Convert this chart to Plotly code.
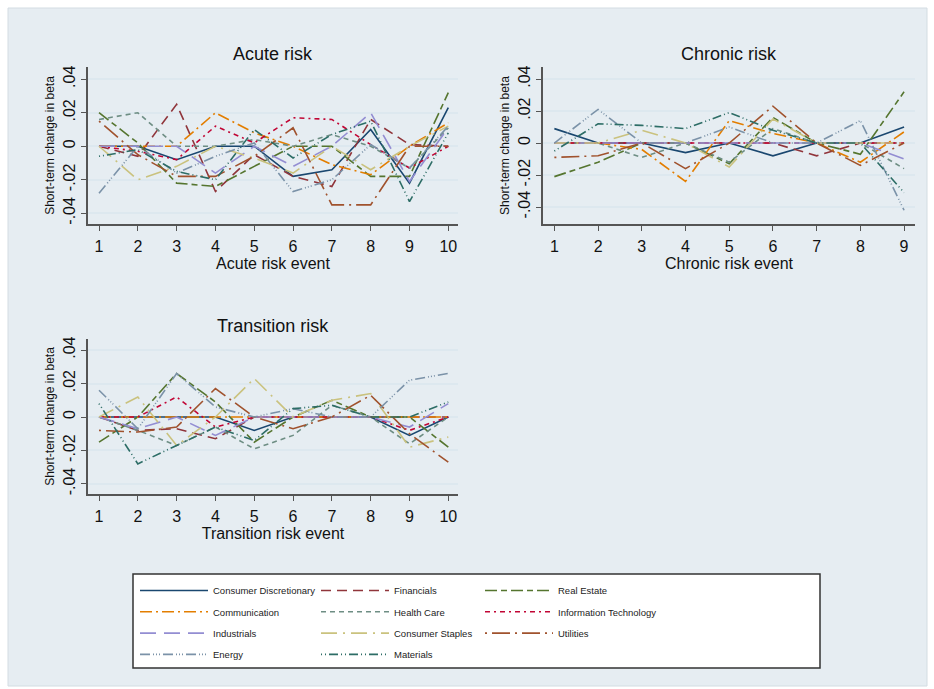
import plotly.graph_objects as go

W, H = 934, 689

sectors = ["Consumer Discretionary", "Financials", "Real Estate",
           "Communication", "Health Care", "Information Technology",
           "Industrials", "Consumer Staples", "Utilities",
           "Energy", "Materials"]

colors = ["#1a476f", "#90353b", "#55752f",
          "#e37e00", "#6e8e84", "#c10534",
          "#938dd2", "#cac27e", "#a0522d",
          "#7b92a8", "#2d6d66"]

dashes = ["solid", "10px,6px", "12px,4px,6px,4px",
          "12px,4px,2px,4px", "5px,4px", "5px,4px,2px,4px",
          "16px,8px", "16px,6px,2px,6px", "2px,5px,18px,5px",
          "10px,3px,1px,2px,1px,2px,1px,3px", "1px,3px,1px,3px,9px,3px"]

acute_events = list(range(1, 11))
chronic_events = list(range(1, 10))
transition_events = list(range(1, 11))

acute = {
    "Consumer Discretionary": [0, 0, -0.008, 0, 0, -0.018, -0.014, 0.010, -0.022, 0.023],
    "Financials":             [0, -0.006, 0.025, -0.027, -0.005, -0.018, -0.024, 0.016, 0.001, 0],
    "Real Estate":            [0.020, 0.002, -0.022, -0.024, -0.012, 0, 0, -0.018, -0.018, 0.032],
    "Communication":          [0, 0, 0, 0.020, 0.008, 0, -0.011, -0.017, 0, 0.014],
    "Health Care":            [0.016, 0.020, 0, 0, 0.004, 0, 0.007, 0, -0.013, 0.011],
    "Information Technology": [0, -0.003, -0.008, 0.012, 0.002, 0.017, 0.016, 0.001, -0.013, 0],
    "Industrials":            [0, 0, 0, -0.016, 0, -0.012, 0, 0.020, -0.021, 0.011],
    "Consumer Staples":       [0, -0.020, -0.012, 0, -0.007, -0.016, 0, -0.014, 0, 0.012],
    "Utilities":              [0.015, -0.005, -0.018, -0.018, -0.006, 0.011, -0.035, -0.035, 0, 0],
    "Energy":                 [-0.028, 0, -0.016, -0.006, 0.002, -0.027, -0.020, 0.001, -0.013, 0.012],
    "Materials":              [-0.006, -0.002, -0.015, -0.020, 0.010, -0.007, 0.007, 0.015, -0.033, 0.008],
}

chronic = {
    "Consumer Discretionary": [0.009, 0, 0, -0.006, 0, -0.008, 0, 0, 0.010],
    "Financials":             [0, 0, 0, 0, 0, 0, -0.008, 0, 0],
    "Real Estate":            [-0.021, -0.012, 0, 0, -0.013, 0.016, 0, -0.007, 0.032],
    "Communication":          [0, 0, -0.004, -0.024, 0.014, 0.006, 0, -0.012, 0.007],
    "Health Care":            [0, 0, -0.009, 0, -0.012, 0.009, 0, 0, -0.016],
    "Information Technology": [0, 0, 0, 0, 0, 0, 0, 0, 0],
    "Industrials":            [0, 0, 0, 0, 0, 0, 0, 0, -0.010],
    "Consumer Staples":       [0, 0, 0.008, 0, -0.015, 0.015, 0, 0, 0],
    "Utilities":              [-0.009, -0.008, 0, -0.016, 0, 0.023, 0, -0.014, 0],
    "Energy":                 [0, 0.021, 0, 0, 0.010, 0, 0, 0.014, -0.042],
    "Materials":              [-0.005, 0.012, 0.011, 0.009, 0.019, 0.008, 0, 0, -0.031],
}

transition = {
    "Consumer Discretionary": [0, 0, 0, 0, -0.008, 0, 0, 0, -0.011, 0],
    "Financials":             [0, -0.008, -0.007, -0.013, 0, 0, 0, 0, 0, 0],
    "Real Estate":            [-0.015, 0, 0.026, 0.009, -0.015, 0, 0.010, 0, 0, -0.018],
    "Communication":          [0, 0, 0, 0, 0, 0, 0, 0, 0, 0],
    "Health Care":            [0, -0.008, -0.017, -0.006, -0.019, -0.011, 0.007, 0, -0.016, 0],
    "Information Technology": [0, 0, 0.012, -0.006, 0, 0, 0, 0, -0.008, 0],
    "Industrials":            [0, -0.007, 0, -0.011, 0, 0, 0, 0, -0.006, 0.008],
    "Consumer Staples":       [0, 0.012, -0.017, 0, 0.023, 0, 0.010, 0.014, -0.018, -0.012],
    "Utilities":              [-0.008, -0.009, -0.006, 0.017, 0, -0.007, 0, 0.013, -0.010, -0.027],
    "Energy":                 [0.016, -0.007, 0.026, 0.006, 0, 0.005, 0, 0, 0.022, 0.026],
    "Materials":              [0.008, -0.028, -0.017, -0.006, -0.014, 0.005, 0.007, 0, 0, 0.009],
}

ytick_vals = [-0.04, -0.02, 0, 0.02, 0.04]
ytick_text = ["-.04", "-.02", "0", ".02", ".04"]

panels = [
    ("Acute risk", "Acute risk event", acute_events, acute, "x", "y"),
    ("Chronic risk", "Chronic risk event", chronic_events, chronic, "x2", "y2"),
    ("Transition risk", "Transition risk event", transition_events, transition, "x3", "y3"),
]

legend_ids = ["legend", "legend2", "legend3"]

fig = go.Figure()

for pi, (title, xtitle, events, data, xa, ya) in enumerate(panels):
    for si, name in enumerate(sectors):
        fig.add_trace(go.Scatter(
            x=events, y=data[name], mode="lines", name=name,
            showlegend=(pi == 0), legend=legend_ids[si % 3], legendgroup=name,
            line=dict(color=colors[si], width=1.6, dash=dashes[si]),
            xaxis=xa, yaxis=ya))


def px_x(p):
    return p / W


def px_y(p):
    return 1 - p / H


axis_common = dict(showline=True, linecolor="#555555", linewidth=1.5,
                   ticks="outside", ticklen=5, tickcolor="#555555",
                   tickfont=dict(family="Arial, Liberation Sans", size=16, color="#111"),
                   zeroline=False)

yaxis_common = dict(axis_common, tickvals=ytick_vals, ticktext=ytick_text,
                    tickangle=-90, showgrid=True, gridcolor="#dde8ef", gridwidth=1.5,
                    title=dict(text="Short-term change in beta",
                               font=dict(family="Arial, Liberation Sans", size=12, color="#111"),
                               standoff=4))

xtitle_font = dict(family="Arial, Liberation Sans", size=16, color="#111")

fig.update_layout(
    xaxis=dict(axis_common, domain=[px_x(88), px_x(458)], range=[0.716, 10.25],
               tickvals=acute_events, showgrid=False, anchor="y", ticklabelstandoff=2,
               title=dict(text="Acute risk event", font=xtitle_font, standoff=0)),
    yaxis=dict(yaxis_common, domain=[px_y(224), px_y(67)], range=[-0.0464, 0.0473], anchor="x"),
    xaxis2=dict(axis_common, domain=[px_x(543), px_x(915)], range=[0.74, 9.25],
                tickvals=chronic_events, showgrid=False, anchor="y2", ticklabelstandoff=2,
                title=dict(text="Chronic risk event", font=xtitle_font, standoff=0)),
    yaxis2=dict(yaxis_common, domain=[px_y(224), px_y(67)], range=[-0.0506, 0.0475], anchor="x2"),
    xaxis3=dict(axis_common, domain=[px_x(88), px_x(458)], range=[0.716, 10.25],
                tickvals=transition_events, showgrid=False, anchor="y3", ticklabelstandoff=2,
                title=dict(text="Transition risk event", font=xtitle_font, standoff=0)),
    yaxis3=dict(yaxis_common, domain=[px_y(494), px_y(339)], range=[-0.046, 0.0466], anchor="x3"),
)

title_font = dict(family="Arial, Liberation Sans", size=18, color="#111")
for (title, *_), (cx, cy) in zip(panels, [(273, 54), (729, 54), (273, 326)]):
    fig.add_annotation(text=title, x=px_x(cx), y=px_y(cy), xref="paper", yref="paper",
                       showarrow=False, font=title_font, xanchor="center", yanchor="middle")

# outer background panel
fig.add_shape(type="rect", xref="paper", yref="paper",
              x0=px_x(8), x1=px_x(927), y0=px_y(686), y1=px_y(8),
              fillcolor="#e6edf2", line=dict(color="#d3dce2", width=1), layer="below")
# legend box
fig.add_shape(type="rect", xref="paper", yref="paper",
              x0=px_x(133), x1=px_x(820), y0=px_y(668), y1=px_y(574),
              fillcolor="white", line=dict(color="#333333", width=1.5), layer="below")

legend_style = dict(orientation="v", xanchor="left", yanchor="top",
                    bgcolor="rgba(0,0,0,0)", borderwidth=0,
                    font=dict(family="Arial, Liberation Sans", size=9.5, color="#222"),
                    itemwidth=68, itemclick=False, itemdoubleclick=False,
                    traceorder="grouped", tracegroupgap=2.3)

fig.update_layout(
    width=W, height=H,
    margin=dict(l=0, r=0, t=0, b=0, autoexpand=False),
    paper_bgcolor="white",
    plot_bgcolor="white",
    showlegend=True,
    legend=dict(legend_style, x=px_x(135), y=px_y(576)),
    legend2=dict(legend_style, x=px_x(316), y=px_y(576)),
    legend3=dict(legend_style, x=px_x(480), y=px_y(576)),
)

fig.write_html("out.html")
